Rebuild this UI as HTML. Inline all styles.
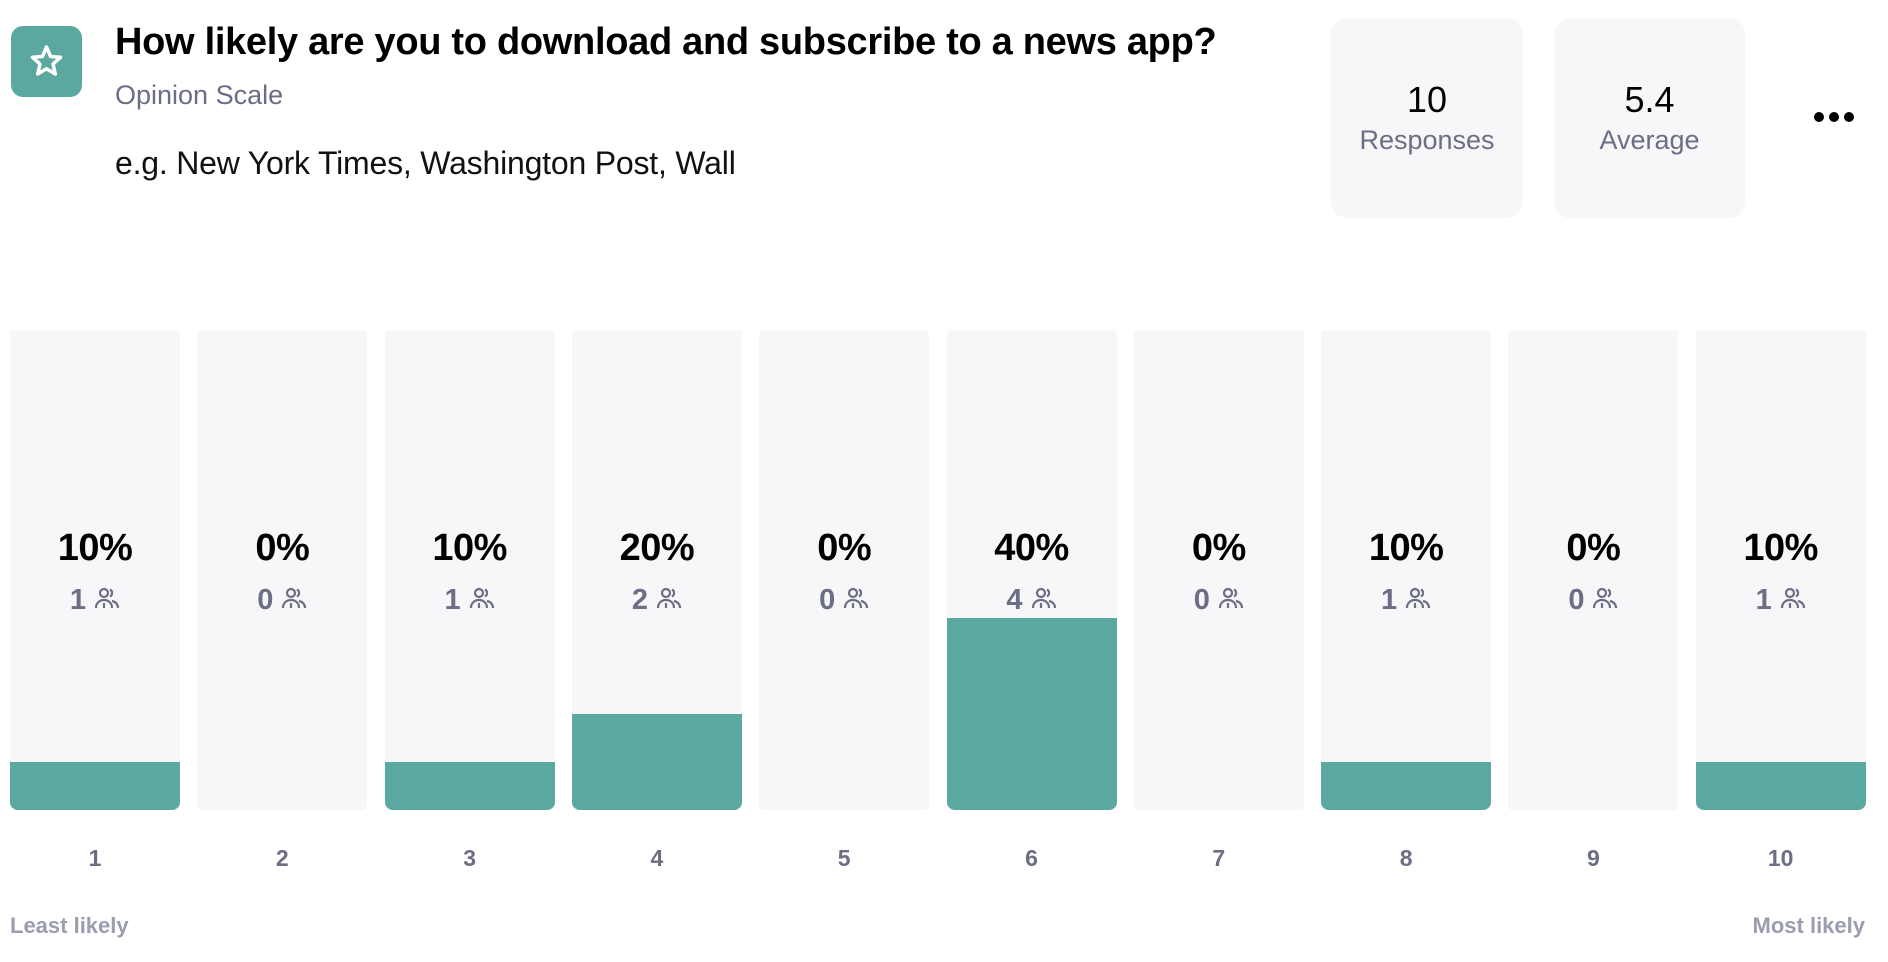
<!DOCTYPE html>
<html><head><meta charset="utf-8"><style>
body{margin:0;width:1888px;height:962px;background:#fff;position:relative;overflow:hidden;font-family:"Liberation Sans",sans-serif}
.a{position:absolute}
.card{background:#f7f7f9;border-radius:16px;text-align:center}
.bar-bg{position:absolute;background:#f7f7f9;border-radius:4px;overflow:hidden}
.bar-fill{position:absolute;left:0;right:0;bottom:0;background:#5ba8a0;border-radius:0 0 8px 8px}
.pct{position:absolute;font-weight:bold;font-size:38px;color:#000;text-align:center;width:170px;letter-spacing:-0.5px}
.cnt{position:absolute;font-weight:bold;font-size:29px;color:#6b6e84;text-align:center;width:170px}
.lbl{position:absolute;font-weight:bold;font-size:23px;color:#6b6e84;text-align:center;width:170px}
</style></head><body>
<div class="a" style="left:11px;top:26px;width:71px;height:71px;background:#5ba8a0;border-radius:12px">
<svg width="71" height="71" viewBox="0 0 71 71"><polygon points="35.5,21 39.6,30.5 49.5,31.3 42,38 44.3,48 35.5,42.8 26.7,48 29,38 21.5,31.3 31.4,30.5" fill="none" stroke="#fff" stroke-width="3.5" stroke-linejoin="round"/></svg></div>
<div class="a" style="left:115px;top:21px;font-size:38px;font-weight:bold;letter-spacing:-0.3px;white-space:nowrap">How likely are you to download and subscribe to a news app?</div>
<div class="a" style="left:115px;top:80px;font-size:27px;color:#6b6e84">Opinion Scale</div>
<div class="a" style="left:115px;top:145px;font-size:32px;color:#111;letter-spacing:-0.2px">e.g. New York Times, Washington Post, Wall</div>
<div class="a card" style="left:1331px;top:18px;width:192px;height:200px">
<div style="font-size:36px;margin-top:61px">10</div><div style="font-size:27px;color:#6b6e84;margin-top:4px">Responses</div></div>
<div class="a card" style="left:1554px;top:18px;width:191px;height:200px">
<div style="font-size:36px;margin-top:61px">5.4</div><div style="font-size:27px;color:#6b6e84;margin-top:4px">Average</div></div>
<div class="a" style="left:1812px;top:110px;width:48px;height:14px">
<svg width="48" height="14"><circle cx="7" cy="7" r="5"/><circle cx="22" cy="7" r="5"/><circle cx="37" cy="7" r="5"/></svg></div>
<div id="chart"></div>
<div class="a" style="left:10px;top:913px;font-size:22px;font-weight:bold;color:#9a9cb0">Least likely</div>
<div class="a" style="right:23px;top:913px;font-size:22px;font-weight:bold;color:#9a9cb0">Most likely</div>
<script>
const categories=["1","2","3","4","5","6","7","8","9","10"];
const counts=[1,0,1,2,0,4,0,1,0,1];
const total=10;
const x0=10,pitch=187.3,bw=170,barTop=330,barBottom=810,H=barBottom-barTop;
const yScale=p=>H*p/100;
const people='<svg width="26" height="24" viewBox="0 0 26 24" style="vertical-align:-1px;margin-left:8px"><circle cx="10" cy="7" r="4" fill="none" stroke="#6b6e84" stroke-width="2.2"/><path d="M16 3.5a4 4 0 0 1 0 7" fill="none" stroke="#6b6e84" stroke-width="2.2"/><path d="M2 22c0-5 3.5-8 8-8s8 3 8 8M18 15c3 .5 6 3 6 7" fill="none" stroke="#6b6e84" stroke-width="2.2"/><line x1="10" y1="17" x2="10" y2="22" stroke="#6b6e84" stroke-width="2.2"/></svg>';
const c=document.getElementById('chart');
categories.forEach((cat,i)=>{
 const pct=Math.round(counts[i]/total*100);
 const x=x0+i*pitch;
 const bg=document.createElement('div');bg.className='bar-bg';
 
 
 bg.style.cssText=`left:${x}px;top:${barTop}px;width:${bw}px;height:${H}px`;
 const f=document.createElement('div');f.className='bar-fill';
 
 
 f.style.height=yScale(pct)+'px';
 if(pct===0)f.style.display='none';
 bg.appendChild(f);c.appendChild(bg);
 const p=document.createElement('div');p.className='pct';
 
 
 p.style.cssText=`left:${x}px;top:527px`;p.textContent=pct+'%';c.appendChild(p);
 const n=document.createElement('div');n.className='cnt';
 
 
 n.style.cssText=`left:${x}px;top:584px`;n.innerHTML=counts[i]+people;c.appendChild(n);
 const l=document.createElement('div');l.className='lbl';
 
 
 l.style.cssText=`left:${x}px;top:845px`;l.textContent=cat;c.appendChild(l);
});
</script>
</body></html>
